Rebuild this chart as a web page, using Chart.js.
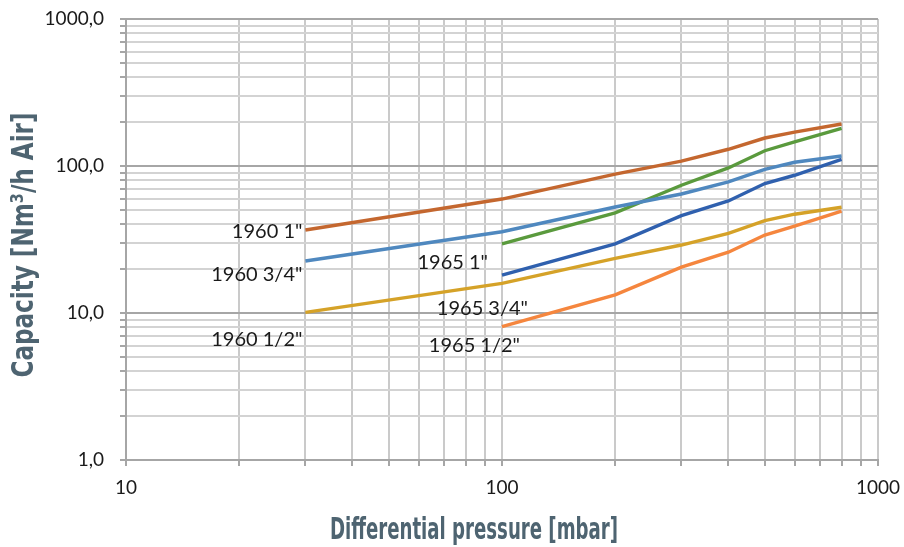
<!DOCTYPE html>
<html>
<head>
<meta charset="utf-8">
<style>
  html, body { margin: 0; padding: 0; background: #ffffff; }
  #wrap { width: 904px; height: 547px; position: relative; }
</style>
<script src="https://cdn.jsdelivr.net/npm/chart.js@4/dist/chart.umd.min.js"></script>
</head>
<body>
<div id="wrap"><canvas id="c" width="904" height="547"></canvas></div>
<script>
// ---- data ----
const pressures1960 = [30, 100, 200, 300, 400, 500, 600, 800];
const pressures1965 = [100, 200, 300, 400, 500, 600, 800];

const cap1960_1   = [36.7, 59.6, 88, 108, 130, 155, 170, 193];
const cap1960_34  = [22.6, 35.7, 52.6, 64.5, 78, 95, 106, 117];
const cap1960_12  = [10.1, 15.9, 23.5, 29, 34.8, 42.5, 47, 52.4];
const cap1965_1   = [29.5, 48, 74, 97, 127, 146, 180];
const cap1965_34  = [18.1, 29.5, 45.9, 57.8, 76, 86.5, 111];
const cap1965_12  = [8.07, 13.3, 20.5, 25.9, 33.9, 39, 49.4];

const seriesNames = ['1960 1"', '1960 3/4"', '1960 1/2"', '1965 1"', '1965 3/4"', '1965 1/2"'];

const xTickValues = [10,20,30,40,50,60,70,80,90,100,200,300,400,500,600,700,800,900,1000];
const yTickValues = [1,2,3,4,5,6,7,8,9,10,20,30,40,50,60,70,80,90,100,200,300,400,500,600,700,800,900,1000];
const xTickLabels = ['10', '100', '1000'];
const yTickLabels = ['1,0', '10,0', '100,0', '1000,0'];

const xTitle = 'Differential pressure [mbar]';
const yTitle = 'Capacity [Nm\u00B3/h Air]';

// ---- helpers ----
function pts(xs, ys) { return xs.map((x, i) => ({ x: x, y: ys[i] })); }
function isPow10(v) { const l = Math.log10(v); return Math.abs(l - Math.round(l)) < 1e-9; }

const colors = ['#C4672F', '#4F88BF', '#D5A228', '#5A9A3D', '#2F60AE', '#F5863E'];
// label offsets relative to each series' first point (style only)
const labelOffsets = [[-3, 2], [-3, 14], [-3, 27], [-14, 19], [26, 33], [18, 19]];

const datasets = [
  { label: seriesNames[0], data: pts(pressures1960, cap1960_1),  borderColor: colors[0] },
  { label: seriesNames[1], data: pts(pressures1960, cap1960_34), borderColor: colors[1] },
  { label: seriesNames[2], data: pts(pressures1960, cap1960_12), borderColor: colors[2] },
  { label: seriesNames[3], data: pts(pressures1965, cap1965_1),  borderColor: colors[3] },
  { label: seriesNames[4], data: pts(pressures1965, cap1965_34), borderColor: colors[4] },
  { label: seriesNames[5], data: pts(pressures1965, cap1965_12), borderColor: colors[5] }
].map((d, i) => Object.assign(d, {
  borderWidth: 3.4, pointRadius: 0, pointHoverRadius: 0, tension: 0,
  fill: false, labelOffset: labelOffsets[i], backgroundColor: d.borderColor
}));

const labelFont = '20px Lato, "Open Sans", sans-serif';
const titleFont = 'bold 31px "Liberation Sans Narrow", "DejaVu Sans Condensed", "Roboto", sans-serif';
const titleColor = '#4E6471';

const seriesLabelPlugin = {
  id: 'seriesLabels',
  afterDatasetsDraw(chart) {
    const ctx = chart.ctx;
    ctx.save();
    ctx.font = labelFont;
    ctx.fillStyle = '#1a1a1a';
    ctx.textAlign = 'right';
    ctx.textBaseline = 'middle';
    chart.data.datasets.forEach((ds, i) => {
      const meta = chart.getDatasetMeta(i);
      const p = meta.data[0];
      ctx.fillText(ds.label, p.x + ds.labelOffset[0], p.y + ds.labelOffset[1]);
    });
    ctx.restore();
  }
};

const axisTitlePlugin = {
  id: 'axisTitles',
  afterDraw(chart) {
    const ctx = chart.ctx;
    ctx.save();
    ctx.font = titleFont;
    ctx.fillStyle = titleColor;
    ctx.textAlign = 'center';
    ctx.textBaseline = 'middle';
    let w = ctx.measureText(xTitle).width;
    ctx.save();
    ctx.translate(474, 531);
    ctx.scale(288 / w, 1);
    ctx.fillText(xTitle, 0, 0);
    ctx.restore();
    w = ctx.measureText(yTitle).width;
    ctx.save();
    ctx.translate(25, 245);
    ctx.rotate(-Math.PI / 2);
    ctx.scale(265 / w, 1);
    ctx.fillText(yTitle, 0, 0);
    ctx.restore();
    ctx.restore();
  }
};

const tickFont = { family: 'Lato, "Open Sans", sans-serif', size: 19 };

new Chart(document.getElementById('c'), {
  type: 'line',
  data: { datasets: datasets },
  options: {
    responsive: false,
    animation: false,
    events: [],
    layout: { padding: { top: 19, right: 26, left: 0, bottom: 0 } },
    plugins: { legend: { display: false }, tooltip: { enabled: false }, title: { display: false } },
    scales: {
      x: {
        type: 'logarithmic',
        min: 10, max: 1000,
        afterBuildTicks: (s) => { s.ticks = xTickValues.map(v => ({ value: v, major: isPow10(v) })); },
        afterFit: (s) => { s.height = 87; s.paddingLeft = 0; s.paddingRight = 0; },
        ticks: {
          autoSkip: false, maxRotation: 0, minRotation: 0,
          color: '#1a1a1a', font: tickFont, padding: 10,
          callback: (v) => { const l = Math.round(Math.log10(v)); return isPow10(v) ? xTickLabels[l - 1] : ''; }
        },
        grid: {
          color: '#CACACA', lineWidth: 2, tickLength: 6, drawTicks: true,
          tickColor: '#A6A6A6'
        },
        border: { display: true, color: '#A6A6A6', width: 2 }
      },
      y: {
        type: 'logarithmic',
        min: 1, max: 1000,
        afterBuildTicks: (s) => { s.ticks = yTickValues.map(v => ({ value: v, major: isPow10(v) })); },
        afterFit: (s) => { s.width = 126; s.paddingTop = 0; s.paddingBottom = 0; },
        ticks: {
          autoSkip: false, color: '#1a1a1a', font: tickFont, padding: 16,
          callback: (v) => { const l = Math.round(Math.log10(v)); return isPow10(v) ? yTickLabels[l] : ''; }
        },
        grid: {
          color: (c) => (c.tick && isPow10(c.tick.value)) ? '#A6A6A6' : '#D3D3D3',
          lineWidth: 2, tickLength: 6, drawTicks: true,
          tickColor: '#A6A6A6'
        },
        border: { display: true, color: '#A6A6A6', width: 2 }
      }
    }
  },
  plugins: [seriesLabelPlugin, axisTitlePlugin]
});
</script>
</body>
</html>
